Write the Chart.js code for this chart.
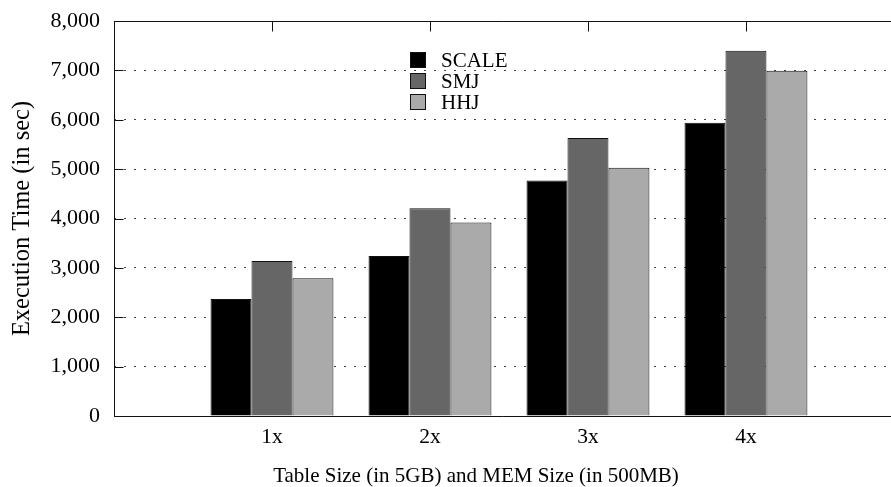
<!DOCTYPE html>
<html>
<head>
<meta charset="utf-8">
<script src="https://cdn.jsdelivr.net/npm/chart.js@4/dist/chart.umd.min.js"></script>
<style>
    html, body { margin: 0; padding: 0; background: #fff; }
</style>
</head>
<body>
<canvas id="execChart" width="891" height="487"></canvas>
<script>
const sizes = ['1x', '2x', '3x', '4x'];
const scaleTimes = [2370, 3240, 4770, 5940];
const smjTimes = [3140, 4210, 5630, 7400];
const hhjTimes = [2790, 3920, 5030, 6990];
const yTicks = [0, 1000, 2000, 3000, 4000, 5000, 6000, 7000, 8000];
const xTitle = 'Table Size (in 5GB) and MEM Size (in 500MB)';

const serif = "'Liberation Serif', 'Times New Roman', serif";

function toPoints(values) {
    return values.map((v, i) => ({ x: i + 1, y: v }));
}

// border, inward tick marks on the left and hanging ticks on the top
const framePlugin = {
    id: 'frame',
    afterDatasetsDraw(chart) {
        const { ctx, chartArea: a, scales: { x, y } } = chart;
        const L = Math.round(a.left) + 0.5;
        const T = Math.round(a.top) + 0.5;
        const B = Math.round(a.bottom) + 0.5;
        const R = a.right;
        ctx.save();
        ctx.strokeStyle = '#111';
        ctx.lineWidth = 1;
        ctx.beginPath();
        ctx.moveTo(R, T);
        ctx.lineTo(L, T);
        ctx.lineTo(L, B);
        ctx.lineTo(R, B);
        y.ticks.forEach(t => {
            const py = Math.round(y.getPixelForValue(t.value)) + 0.5;
            ctx.moveTo(L, py);
            ctx.lineTo(L + 9, py);
        });
        x.ticks.forEach(t => {
            const px = Math.round(x.getPixelForValue(t.value)) + 0.5;
            ctx.moveTo(px, T);
            ctx.lineTo(px, T + 10);
        });
        ctx.stroke();
        ctx.restore();
    }
};

// key box inside the plot, one row per series, plus the x axis caption
const keyPlugin = {
    id: 'key',
    afterDraw(chart) {
        const { ctx } = chart;
        ctx.save();
        ctx.font = '21px ' + serif;
        ctx.textBaseline = 'alphabetic';
        ctx.textAlign = 'left';
        chart.data.datasets.forEach((ds, i) => {
            const top = 52.5 + i * 21;
            ctx.fillStyle = ds.backgroundColor;
            ctx.fillRect(410.5, top, 15, 15);
            ctx.strokeStyle = '#111';
            ctx.lineWidth = 1;
            ctx.strokeRect(410.5, top, 15, 15);
            ctx.fillStyle = '#000';
            ctx.fillText(ds.label, 441, top + 14);
        });
        ctx.textAlign = 'center';
        ctx.fillText(xTitle, 476, 482);
        ctx.restore();
    }
};

const barStyle = { borderColor: '#111', borderWidth: 1, categoryPercentage: 0.778, barPercentage: 1.0 };

const execChart = new Chart(document.getElementById('execChart'), {
    type: 'bar',
    data: {
        datasets: [
            { label: 'SCALE', data: toPoints(scaleTimes), backgroundColor: '#000000', ...barStyle },
            { label: 'SMJ', data: toPoints(smjTimes), backgroundColor: '#666666', ...barStyle },
            { label: 'HHJ', data: toPoints(hhjTimes), backgroundColor: '#aaaaaa', ...barStyle }
        ]
    },
    options: {
        responsive: false,
        animation: false,
        devicePixelRatio: 1,
        layout: { padding: { top: 21, right: 0, left: 0, bottom: 0 } },
        plugins: {
            legend: { display: false },
            tooltip: { enabled: false }
        },
        scales: {
            x: {
                type: 'linear',
                offset: false,
                min: 0,
                max: 4.918,
                grid: { display: false, offset: false },
                border: { display: false },
                afterBuildTicks: scale => {
                    scale.ticks = sizes.map((s, i) => ({ value: i + 1 }));
                },
                afterFit: scale => { scale.height = 71; },
                ticks: {
                    padding: 0,
                    color: '#000',
                    font: { family: serif, size: 21.5 },
                    callback: value => sizes[value - 1]
                }
            },
            y: {
                min: 0,
                max: 8000,
                afterBuildTicks: scale => {
                    scale.ticks = yTicks.map(v => ({ value: v }));
                },
                afterFit: scale => {
                    scale.width = 114;
                    // labels sit beside the axis, they need no room above or below it
                    scale.paddingTop = 0;
                    scale.paddingBottom = 0;
                },
                grid: { color: '#444', lineWidth: 1, drawTicks: false },
                border: { display: false, dash: [2, 8] },
                ticks: {
                    padding: 14,
                    color: '#000',
                    font: { family: serif, size: 22 },
                    callback: value => value.toLocaleString('en-US')
                },
                title: {
                    display: true,
                    text: 'Execution Time (in sec)',
                    color: '#000',
                    font: { family: serif, size: 24.5 },
                    padding: { top: 8, bottom: 0 }
                }
            }
        }
    },
    plugins: [framePlugin, keyPlugin]
});
</script>
</body>
</html>
